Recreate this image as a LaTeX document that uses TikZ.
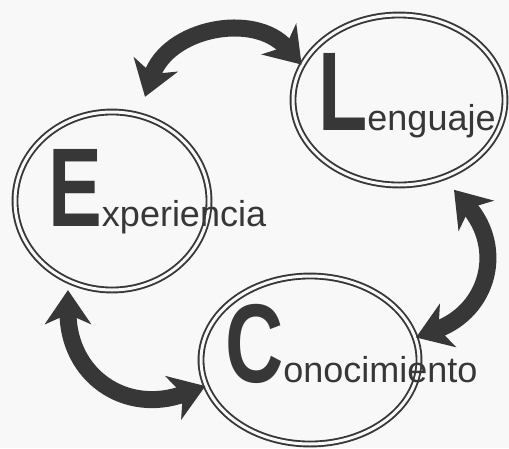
\documentclass[tikz,border=0pt]{standalone}
\usepackage{fontspec}
\setmainfont{Liberation Sans}
\usepackage{graphicx}
\usepackage{tikz}
\usetikzlibrary{arrows.meta,shapes.geometric,positioning}
\definecolor{ink}{RGB}{55,55,55}
\definecolor{paper}{RGB}{248,248,248}
\tikzstyle{ring} = [ellipse, draw=ink, double=paper, double distance=3pt, line width=1.9pt, inner sep=0pt]
\tikzstyle{link} = [line width=17pt, color=ink, {Stealth[length=34pt,width=46pt,inset=10pt]}-{Stealth[length=34pt,width=46pt,inset=10pt]}]
\tikzstyle{word} = [anchor=base west, inner sep=0pt, text=ink, font=\fontsize{36}{36}\selectfont]
\newcommand{\bigletter}[1]{{\fontsize{112}{112}\selectfont\bfseries\scalebox{0.72}[1]{#1}}}

\begin{document}
\begin{tikzpicture}[x=1pt, y=-1pt]
\useasboundingbox[fill=paper] (0,0) rectangle (509,448);
% Three bubbles
\node[ring, minimum width=194pt, minimum height=178pt] (exp) at (112,201) {};
\node[ring, minimum width=212pt, minimum height=170pt] (len) at (399,100) {};
\node[ring, minimum width=218pt, minimum height=168pt] (con) at (310,360) {};

% Words
\node[word] (expl) at (48,226) {\bigletter{E}xperiencia};
\node[word] (lenl) at (318,130) {\bigletter{L}enguaje};
\node[word] (conl) at (225,382) {\bigletter{C}onocimiento};

% Arrows between bubbles
\draw[link] ([shift={(5,-18)}]exp.72) to[bend left=60, looseness=1.15] (len.160);
\draw[link] ([shift={(7,13)}]len.-58) to[bend left=55, looseness=1.3] (con.12);
\draw[link] ([shift={(-4,7)}]exp.244) to[bend right=55, looseness=1.3] (con.194);
\end{tikzpicture}
\end{document}
